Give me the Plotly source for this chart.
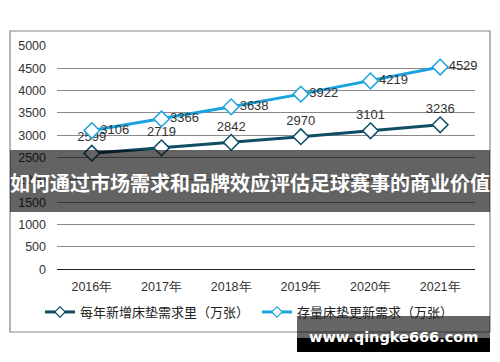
import plotly.graph_objects as go

years = ["2016年", "2017年", "2018年", "2019年", "2020年", "2021年"]
new_demand = [2599, 2719, 2842, 2970, 3101, 3236]
renew_demand = [3106, 3366, 3638, 3922, 4219, 4529]
name_new = "每年新增床垫需求里（万张）"
name_renew = "存量床垫更新需求（万张）"
y_ticks = [0, 500, 1000, 1500, 2000, 2500, 3000, 3500, 4000, 4500, 5000]
banner_text = "如何通过市场需求和品牌效应评估足球赛事的商业价值"
watermark = "www.qingke666.com"

W, H = 500, 362
def px(x):
    return x / W
def py(y):
    return 1 - y / H

dark = "#0e4d64"
light = "#1ba3dd"
font_num = "Liberation Sans, Arial, sans-serif"
font_cjk = "Noto Sans CJK SC, sans-serif"

fig = go.Figure()
fig.add_trace(go.Scatter(
    x=years, y=new_demand, name=name_new, mode="lines+markers+text",
    line=dict(color=dark, width=3),
    marker=dict(symbol="diamond", size=12, color="white", line=dict(color=dark, width=1.5)),
    text=[str(v) for v in new_demand], textposition="top center",
    textfont=dict(family=font_num, size=13, color="#333333"),
    showlegend=False, cliponaxis=False,
))
fig.add_trace(go.Scatter(
    x=years, y=renew_demand, name=name_renew, mode="lines+markers+text",
    line=dict(color=light, width=3),
    marker=dict(symbol="diamond", size=12, color="white", line=dict(color=light, width=1.5)),
    text=[str(v) for v in renew_demand], textposition="middle right",
    textfont=dict(family=font_num, size=13, color="#333333"),
    showlegend=False, cliponaxis=False,
))
# legend entries (smaller markers, as in the reference legend)
fig.add_trace(go.Scatter(
    x=[None], y=[None], name=name_new, mode="lines+markers",
    line=dict(color=dark, width=3),
    marker=dict(symbol="diamond", size=8, color="white", line=dict(color=dark, width=1.2)),
    legend="legend",
))
fig.add_trace(go.Scatter(
    x=[None], y=[None], name=name_renew, mode="lines+markers",
    line=dict(color=light, width=3),
    marker=dict(symbol="diamond", size=8, color="white", line=dict(color=light, width=1.2)),
    legend="legend2",
))

fig.update_layout(
    width=W, height=H,
    margin=dict(l=0, r=0, t=0, b=0),
    paper_bgcolor="white", plot_bgcolor="white",
    xaxis=dict(domain=[px(57), px(475)], type="category", range=[-0.5, 5.5],
               showgrid=False, showline=False, ticks="", automargin=False,
               ticklabelstandoff=8,
               tickfont=dict(family=font_num, size=12.5, color="#333333")),
    yaxis=dict(domain=[py(269.3), py(46)], range=[0, 5000], tickvals=y_ticks,
               showgrid=True, gridcolor="#8a8a8a", gridwidth=1,
               zeroline=True, zerolinecolor="#222222", zerolinewidth=1.2,
               showline=False, ticks="", ticklabelstandoff=10, automargin=False,
               tickfont=dict(family=font_num, size=12.5, color="#333333")),
    legend=dict(orientation="h", x=px(40), y=py(312), xanchor="left", yanchor="middle",
                font=dict(family=font_cjk, size=13, color="#222222"), bgcolor="rgba(0,0,0,0)"),
    legend2=dict(orientation="h", x=px(257), y=py(312), xanchor="left", yanchor="middle",
                 font=dict(family=font_cjk, size=13, color="#222222"), bgcolor="rgba(0,0,0,0)"),
    showlegend=True,
)

shapes = [
    dict(type="rect", xref="paper", yref="paper", x0=px(10), x1=px(490), y0=py(332), y1=py(31),
         line=dict(color="#858585", width=1.2), fillcolor="rgba(0,0,0,0)", layer="above"),
    dict(type="rect", xref="paper", yref="paper", x0=px(10), x1=px(490), y0=py(212), y1=py(150),
         line=dict(width=0), fillcolor="rgba(0,0,0,0.61)", layer="above"),
    dict(type="rect", xref="paper", yref="paper", x0=px(297), x1=px(490), y0=py(338), y1=py(316),
         line=dict(width=0), fillcolor="rgba(0,0,0,0.6)", layer="above"),
    dict(type="rect", xref="paper", yref="paper", x0=px(297), x1=px(490), y0=py(352), y1=py(338),
         line=dict(width=0), fillcolor="black", layer="above"),
]
fig.update_layout(shapes=shapes)

fig.add_annotation(x=px(250), y=py(182), xref="paper", yref="paper", text=banner_text,
                   showarrow=False, xanchor="center", yanchor="middle",
                   font=dict(family=font_cjk, size=20, color="white", weight="bold"))
fig.add_annotation(x=px(393), y=py(337), xref="paper", yref="paper", text=watermark,
                   showarrow=False, xanchor="center", yanchor="middle",
                   font=dict(family="DejaVu Sans, sans-serif", size=14.5, color="white", weight="bold"))

fig.write_html("out.html", config={"displayModeBar": False},
               post_script="document.body.style.margin='0';document.body.style.overflow='hidden';")
